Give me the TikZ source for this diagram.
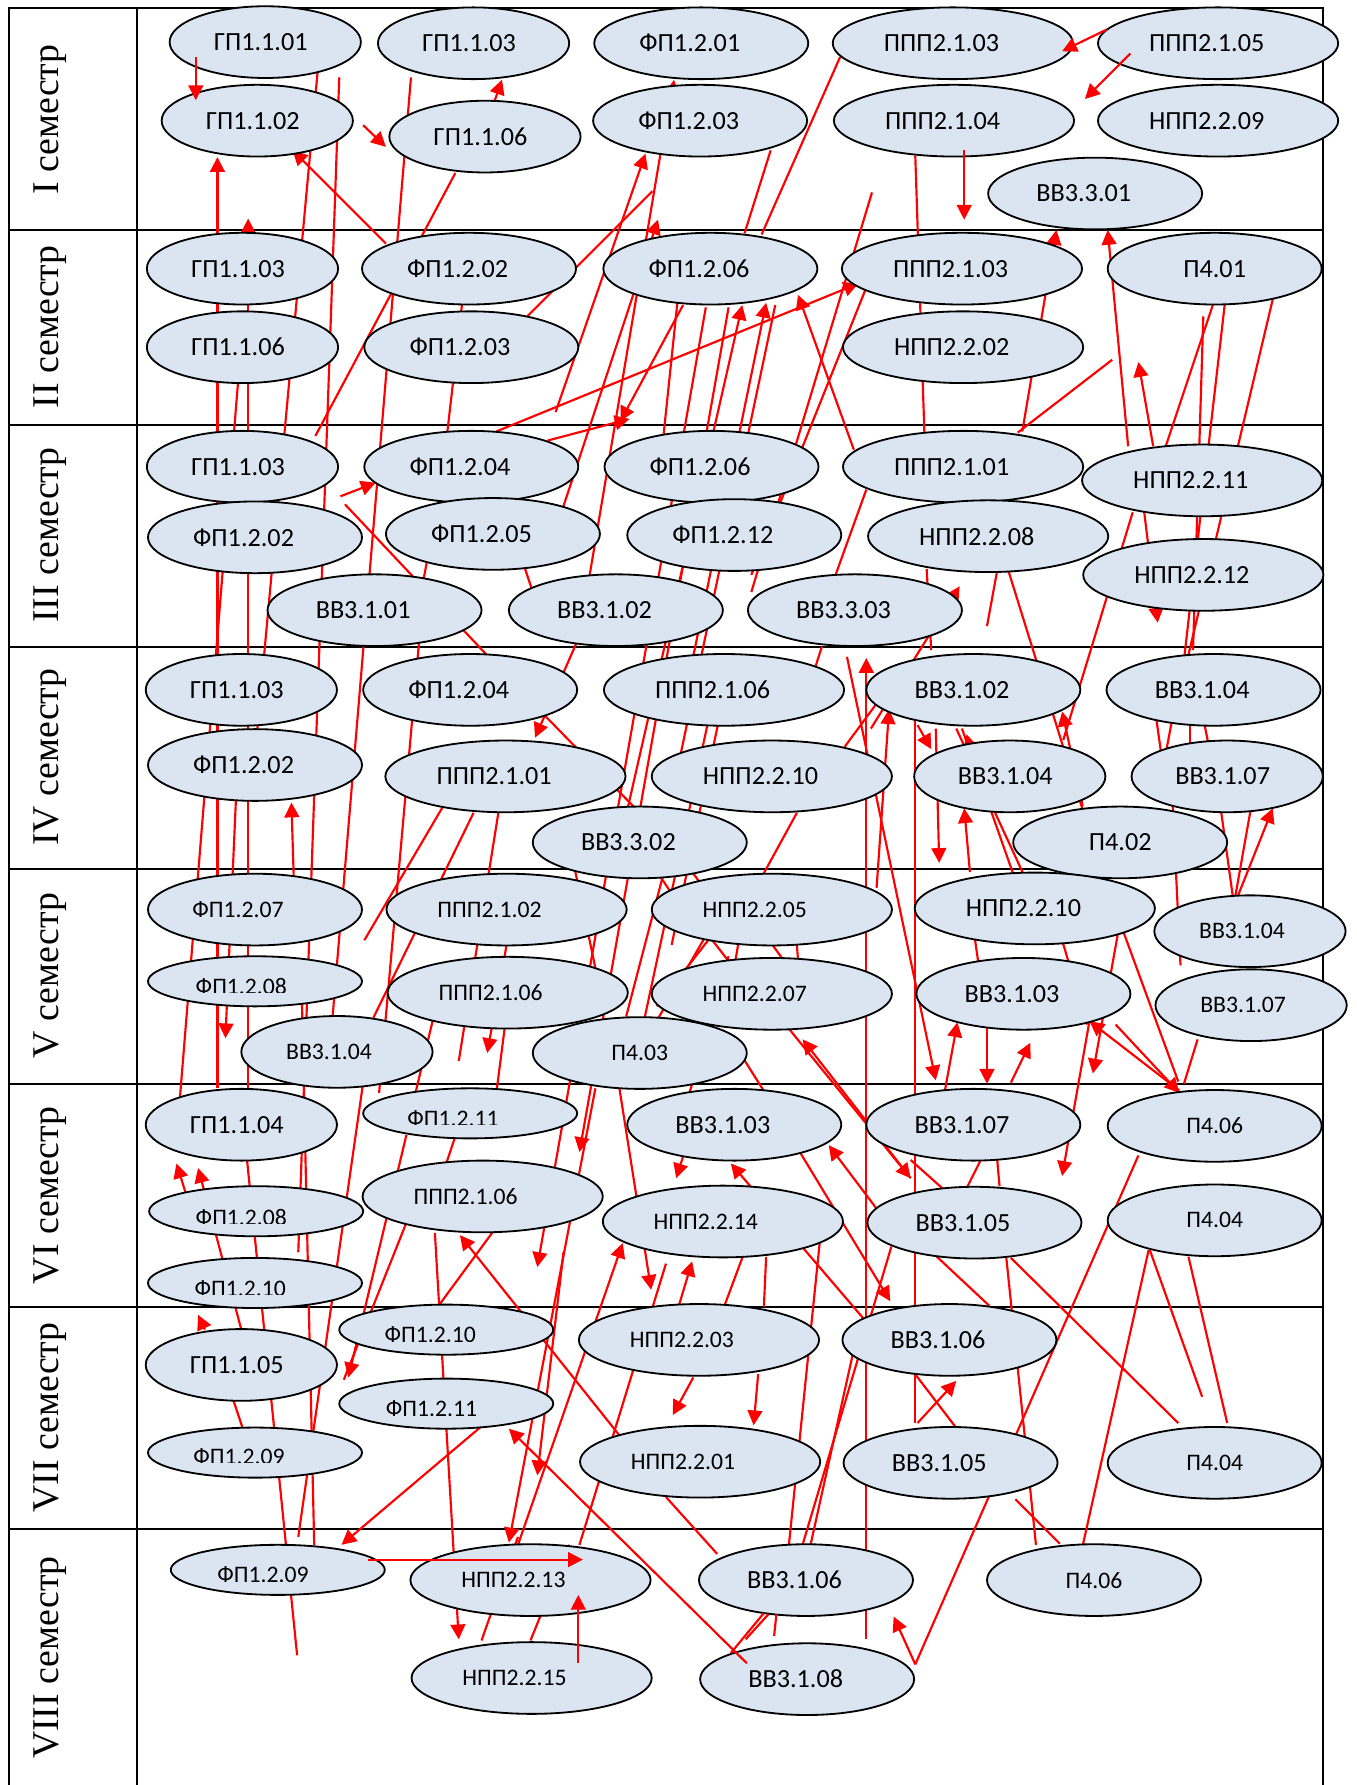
\documentclass[tikz,border=0pt]{standalone}
\usepackage{fontspec}
\usepackage{xcolor}
\usetikzlibrary{shapes.geometric,arrows.meta}
\newfontfamily\kursfont{Carlito}
\newfontfamily\semfont{Liberation Serif}
\definecolor{kursfill}{HTML}{DBE5F1}
\definecolor{svyaz}{HTML}{FF0000}

\tikzset{
  kurs/.style={ellipse, draw=black, line width=0.8pt, fill=kursfill,
    inner sep=0pt, minimum height=31.5pt,
    font=\kursfont\fontsize{11.5}{13}\selectfont},
  melk/.style={font=\kursfont\fontsize{10.4}{12}\selectfont},
  ploskiy/.style={minimum height=22pt},
  wA/.style={minimum width=84pt},
  wB/.style={minimum width=94pt},
  wC/.style={minimum width=105.5pt},
  sdv/.style={execute at end node={\kern10pt}},
  sdvm/.style={execute at end node={\kern15pt}},
  sdvs/.style={execute at end node={\kern7pt}},
  sdvg/.style={execute at end node={\kern4pt}},
  srez/.style={inner sep=0pt, anchor=base, font=\kursfont\fontsize{10.4}{12}\selectfont},
  semestr/.style={rotate=90, inner sep=0pt, font=\semfont\fontsize{16.6}{20}\selectfont},
  setka/.style={draw=black, line width=0.9pt},
  linia/.style={draw=svyaz, line width=0.95pt},
  strelka/.style={linia, -{Triangle[length=6.5pt, width=6.5pt]}}
}
% label of a flat ellipse, cut at the bottom: name, x, cut line, text
\newcommand\srezlabel[4]{%
  \begin{scope}
    \clip (#2-70,#3-30) rectangle (#2+70,#3);
    \node[srez] (#1) at (#2,#3+1.5) {#4};
  \end{scope}}

\begin{document}
\begin{tikzpicture}[x=0.5pt, y=-0.5pt]
    \useasboundingbox (0,0) rectangle (1192,1568);

    % table
    \draw[setka] (8,1568) -- (8,7) -- (1162,7) -- (1162,1568);
    \draw[setka] (120,7) -- (120,1568);
    \draw[setka] (8,202) -- (1162,202) (8,373) -- (1162,373) (8,568) -- (1162,568)
                 (8,763) -- (1162,763) (8,952) -- (1162,952) (8,1148) -- (1162,1148)
                 (8,1343) -- (1162,1343);

    \node[semestr] (sem1) at (44,105) {I семестр};
    \node[semestr] (sem2) at (44,287) {II семестр};
    \node[semestr] (sem3) at (44,470) {III семестр};
    \node[semestr] (sem4) at (44,665) {IV семестр};
    \node[semestr] (sem5) at (44,857) {V семестр};
    \node[semestr] (sem6) at (44,1050) {VI семестр};
    \node[semestr] (sem7) at (44,1245) {VII семестр};
    \node[semestr] (sem8) at (44,1456) {VIII семестр};

    % links behind the courses
    \draw[linia] (279,63) -- (226,641);
    \draw[linia] (298,68) -- (262,1100);
    \draw[linia] (361,68) -- (287,955);
    \draw[linia] (400,152) -- (277,383);
    \draw[linia] (580,136) -- (518,505);
    \draw[linia] (573,168) -- (463,278);
    \draw[linia] (738,50) -- (669,206);
    \draw[linia] (677,132) -- (654,205);
    \draw[linia] (766,169) -- (660,520);
    \draw[linia] (804,137) -- (812,380);
    \draw[linia] (406,266) -- (393,379);
    \draw[linia] (595,266) -- (583,381);
    \draw[linia] (681,268) -- (590,700);
    \draw[linia] (760,255) -- (660,505);
    \draw[linia] (977,316) -- (894,380);
    \draw[linia] (1066,266) -- (1005,449);
    \draw[linia] (1076,266) -- (1040,580);
    \draw[linia] (1118,263) -- (1044,575);
    \draw[linia] (1057,278) -- (1048,571);
    \draw[linia] (303,443) -- (432,580);
    \draw[linia] (867,550) -- (878,490);
    \draw[linia] (886,502) -- (960,740);
    \draw[linia] (814,500) -- (818,571);
    \draw[linia] (761,430) -- (734,505);
    \draw[linia] (995,450) -- (934,650);
    \draw[linia] (212,300) -- (158,965);
    \draw[linia] (217,1019) -- (261,1454);
    \draw[linia] (265,870) -- (276,1357);
    \draw[linia] (322,930) -- (262,1350);
    \draw[linia] (320,826) -- (400,690);
    \draw[linia] (328,894) -- (416,714);
    \draw[linia] (440,700) -- (403,932);
    \draw[linia] (372,520) -- (333,960);
    \draw[linia] (742,656) -- (770,618);
    \draw[linia] (702,630) -- (722,568);
    \draw[linia] (700,714) -- (671,767);
    \draw[linia] (479,629) -- (560,712);
    \draw[linia] (625,620) -- (565,900);
    \draw[linia] (632,630) -- (590,830);
    \draw[linia] (1030,705) -- (1037,848);
    \draw[linia] (1072,708) -- (1083,788);
    \draw[linia] (1099,709) -- (1085,788);
    \draw[linia] (1015,626) -- (1020,662);
    \draw[linia] (1030,630) -- (1024,662);
    \draw[linia] (1045,636) -- (1045,656);
    \draw[linia] (1058,636) -- (1062,656);
    \draw[linia] (840,640) -- (900,770);
    \draw[linia] (845,640) -- (912,830);
    \draw[linia] (933,826) -- (955,900);
    \draw[linia] (987,819) -- (1035,950);
    \draw[linia] (1052,913) -- (1040,952);
    \draw[linia] (650,770) -- (575,900);
    \draw[linia] (590,780) -- (660,870);
    \draw[linia] (650,790) -- (700,860);
    \draw[linia] (655,790) -- (640,880);
    \draw[linia] (697,790) -- (703,870);
    \draw[linia] (560,740) -- (600,800);
    \draw[linia] (590,740) -- (625,790);
    \draw[linia] (500,740) -- (525,860);
    \draw[linia] (384,880) -- (365,960);
    \draw[linia] (445,890) -- (436,960);
    \draw[linia] (650,925) -- (672,960);
    \draw[linia] (577,884) -- (622,826);
    \draw[linia] (550,893) -- (590,740);
    \draw[linia] (458,490) -- (468,520);
    \draw[linia] (385,440) -- (370,520);
    \draw[linia] (855,815) -- (860,850);
    \draw[linia] (200,1215) -- (215,1260);
    \draw[linia] (357,1074) -- (302,1212);
    \draw[linia] (433,1082) -- (386,1146);
    \draw[linia] (400,998) -- (392,1022);
    \draw[linia] (652,1105) -- (636,1148);
    \draw[linia] (673,1104) -- (671,1148);
    \draw[linia] (800,1202) -- (839,1253);
    \draw[linia] (1000,1015) -- (804,1462);
    \draw[linia] (1009,1098) -- (951,1358);
    \draw[linia] (1010,1098) -- (1056,1227);
    \draw[linia] (1044,1104) -- (1078,1250);
    \draw[linia] (888,1105) -- (1035,1250);
    \draw[linia] (822,1103) -- (869,1147);
    \draw[linia] (884,1105) -- (910,1357);
    \draw[linia] (892,1317) -- (931,1356);
    \draw[linia] (804,631) -- (804,1250);
    \draw[linia] (720,1092) -- (693,1357);
    \draw[linia] (751,1181) -- (712,1357);
    \draw[linia] (783,1095) -- (705,1357);
    \draw[linia] (585,1315) -- (630,1365);
    \draw[linia] (509,1357) -- (585,1110);
    \draw[linia] (423,1441) -- (455,1350);
    \draw[linia] (466,1441) -- (500,1357);
    \draw[linia] (861,1020) -- (849,1044);
    \draw[linia] (876,1019) -- (878,1042);
    \draw[linia] (800,1019) -- (828,1044);
    \draw[linia] (600,980) -- (640,840);

    \draw[strelka] (191,956) -- (191,138);
    \draw[strelka] (218,956) -- (218,192);
    \draw[strelka] (339,214) -- (257,132);
    \draw[strelka] (319,110) -- (339,129);
    \draw[strelka] (434,90) -- (441,70);
    \draw[strelka] (590,88) -- (592,70);
    \draw[strelka] (488,362) -- (567,135);
    \draw[strelka] (480,490) -- (578,193);
    \draw[strelka] (898,379) -- (928,202);
    \draw[strelka] (991,392) -- (973,202);
    \draw[strelka] (436,379) -- (754,249);
    \draw[strelka] (750,395) -- (701,259);
    \draw[strelka] (540,760) -- (652,268);
    \draw[strelka] (600,620) -- (673,266);
    \draw[strelka] (600,268) -- (545,370);
    \draw[strelka] (481,387) -- (553,368);
    \draw[strelka] (640,270) -- (509,1012);
    \draw[strelka] (620,270) -- (472,1113);
    \draw[strelka] (1013,392) -- (1000,318);
    \draw[strelka] (299,436) -- (330,424);
    \draw[strelka] (1005,449) -- (1017,547);
    \draw[strelka] (765,640) -- (843,515);
    \draw[strelka] (515,545) -- (470,648);
    \draw[strelka] (258,770) -- (256,705);
    \draw[strelka] (761,1440) -- (761,578);
    \draw[strelka] (770,780) -- (781,623);
    \draw[strelka] (806,637) -- (818,658);
    \draw[strelka] (862,690) -- (849,645);
    \draw[strelka] (822,640) -- (825,758);
    \draw[strelka] (852,766) -- (847,710);
    \draw[strelka] (1087,788) -- (1118,710);
    \draw[strelka] (951,708) -- (933,625);
    \draw[strelka] (744,577) -- (822,949);
    \draw[strelka] (210,640) -- (198,912);
    \draw[strelka] (445,830) -- (428,925);
    \draw[strelka] (830,958) -- (841,898);
    \draw[strelka] (867,893) -- (867,952);
    \draw[strelka] (888,951) -- (905,916);
    \draw[strelka] (1036,958) -- (957,897);
    \draw[strelka] (980,900) -- (1036,960);
    \draw[strelka] (982,820) -- (960,943);
    \draw[strelka] (170,1070) -- (155,1022);
    \draw[strelka] (212,1168) -- (174,1026);
    \draw[strelka] (180,1168) -- (174,1155);
    \draw[strelka] (455,1357) -- (547,1092);
    \draw[strelka] (600,1016) -- (594,1035);
    \draw[strelka] (540,930) -- (572,1133);
    \draw[strelka] (596,1148) -- (608,1108);
    \draw[strelka] (760,1160) -- (642,1022);
    \draw[strelka] (777,1071) -- (728,1006);
    \draw[strelka] (960,880) -- (933,1033);
    \draw[strelka] (702,1011) -- (782,1143);
    \draw[strelka] (545,1262) -- (404,1085);
    \draw[strelka] (382,1083) -- (403,1440);
    \draw[strelka] (357,997) -- (306,1210);
    \draw[strelka] (424,1252) -- (300,1357);
    \draw[strelka] (495,1100) -- (472,1296);
    \draw[strelka] (523,956) -- (447,1355);
    \draw[strelka] (609,1210) -- (591,1243);
    \draw[strelka] (666,1207) -- (662,1252);
    \draw[strelka] (806,1250) -- (840,1213);
    \draw[strelka] (804,1462) -- (785,1420);
    \draw[strelka] (800,1035) -- (705,913);
    \draw[strelka] (690,900) -- (800,1035);

    % I semester
    \node[kurs,wA,sdvg] (s1gp101) at (233,37) {ГП1.1.01};
    \node[kurs,wA,sdvg] (s1gp103) at (416,38) {ГП1.1.03};
    \node[kurs,wB,sdv] (s1fp201) at (616,38) {ФП1.2.01};
    \node[kurs,wC,sdv] (s1ppp203) at (837,38) {ППП2.1.03};
    \node[kurs,wC,sdv] (s1ppp205) at (1070,38) {ППП2.1.05};
    \node[kurs,wA,sdvg] (s1gp102) at (226,106) {ГП1.1.02};
    \node[kurs,wA,sdvg] (s1gp106) at (426,120) {ГП1.1.06};
    \node[kurs,wB,sdv] (s1fp203) at (615,106) {ФП1.2.03};
    \node[kurs,wC,sdv] (s1ppp204) at (838,106) {ППП2.1.04};
    \node[kurs,wC,sdv] (s1npp209) at (1070,106) {НПП2.2.09};
    \node[kurs,wB,sdv] (s1vv301) at (962,170) {ВВ3.3.01};

    % II semester
    \node[kurs,wA,sdvg] (s2gp103) at (213,236) {ГП1.1.03};
    \node[kurs,wB,sdv] (s2fp202) at (412,236) {ФП1.2.02};
    \node[kurs,wB,sdv] (s2fp206) at (624,236) {ФП1.2.06};
    \node[kurs,wC,sdv] (s2ppp203) at (845,236) {ППП2.1.03};
    \node[kurs,wB] (s2p401) at (1067,236) {П4.01};
    \node[kurs,wA,sdvg] (s2gp106) at (213,305) {ГП1.1.06};
    \node[kurs,wB,sdv] (s2fp203) at (414,305) {ФП1.2.03};
    \node[kurs,wC,sdv] (s2npp202) at (846,305) {НПП2.2.02};

    % III semester
    \node[kurs,wA,sdvg] (s3gp103) at (213,410) {ГП1.1.03};
    \node[kurs,wB,sdv] (s3fp204) at (414,410) {ФП1.2.04};
    \node[kurs,wB,sdv] (s3fp206) at (625,410) {ФП1.2.06};
    \node[kurs,wC,sdv] (s3ppp201) at (846,410) {ППП2.1.01};
    \node[kurs,wC,sdv] (s3npp211) at (1056,422) {НПП2.2.11};
    \node[kurs,wB,sdv] (s3fp202) at (224,472) {ФП1.2.02};
    \node[kurs,wB,sdv] (s3fp205) at (433,469) {ФП1.2.05};
    \node[kurs,wB,sdv] (s3fp212) at (645,470) {ФП1.2.12};
    \node[kurs,wC,sdv] (s3npp208) at (868,471) {НПП2.2.08};
    \node[kurs,wC,sdv] (s3npp212) at (1057,505) {НПП2.2.12};
    \node[kurs,wB,sdv] (s3vv101) at (329,536) {ВВ3.1.01};
    \node[kurs,wB,sdv] (s3vv102) at (541,536) {ВВ3.1.02};
    \node[kurs,wB,sdv] (s3vv303) at (751,536) {ВВ3.3.03};

    % IV semester
    \node[kurs,wA,sdvg] (s4gp103) at (212,606) {ГП1.1.03};
    \node[kurs,wB,sdv] (s4fp204) at (413,606) {ФП1.2.04};
    \node[kurs,wC,sdv] (s4ppp206) at (636,606) {ППП2.1.06};
    \node[kurs,wB,sdv] (s4vv102) at (855,606) {ВВ3.1.02};
    \node[kurs,wB,sdv] (s4vv104) at (1066,606) {ВВ3.1.04};
    \node[kurs,wB,sdv] (s4fp202) at (224,672) {ФП1.2.02};
    \node[kurs,wC,sdv] (s4ppp201) at (444,682) {ППП2.1.01};
    \node[kurs,wC,sdv] (s4npp210) at (678,682) {НПП2.2.10};
    \node[kurs,wA,sdvg] (s4vv104b) at (887,682) {ВВ3.1.04};
    \node[kurs,wA,sdvg] (s4vv107) at (1078,682) {ВВ3.1.07};
    \node[kurs,wB,sdv] (s4vv302) at (562,740) {ВВ3.3.02};
    \node[kurs,wB] (s4p402) at (984,740) {П4.02};

    % V semester
    \node[kurs,wB,melk,sdvm] (s5fp207) at (224,799) {ФП1.2.07};
    \node[kurs,wC,melk,sdvm] (s5ppp202) at (445,799) {ППП2.1.02};
    \node[kurs,wC,melk,sdvm] (s5npp205) at (678,799) {НПП2.2.05};
    \node[kurs,wC,sdv] (s5npp210) at (909,798) {НПП2.2.10};
    \node[kurs,wA,melk,sdvs] (s5vv104) at (1098,818) {ВВ3.1.04};
    \node[kurs,wB,ploskiy] (s5fp208) at (224,862) {};
    \node[kurs,wC,melk,sdvm] (s5ppp206) at (446,872) {ППП2.1.06};
    \node[kurs,wC,melk,sdvm] (s5npp207) at (678,873) {НПП2.2.07};
    \node[kurs,wB,sdv] (s5vv103) at (899,873) {ВВ3.1.03};
    \node[kurs,wA,melk,sdvs] (s5vv107) at (1099,883) {ВВ3.1.07};
    \node[kurs,wA,melk,sdvs] (s5vv104b) at (296,924) {ВВ3.1.04};
    \node[kurs,wB,melk] (s5p403) at (562,925) {П4.03};

    % VI semester
    \node[kurs,wA,sdvg] (s6gp104) at (212,988) {ГП1.1.04};
    \node[kurs,wB,ploskiy] (s6fp211) at (413,978) {};
    \node[kurs,wB,sdv] (s6vv103) at (645,988) {ВВ3.1.03};
    \node[kurs,wB,sdv] (s6vv107) at (855,988) {ВВ3.1.07};
    \node[kurs,wB,melk] (s6p406) at (1067,989) {П4.06};
    \node[kurs,wB,ploskiy] (s6fp208) at (225,1064) {};
    \node[kurs,wC,melk,sdvm] (s6ppp206) at (424,1051) {ППП2.1.06};
    \node[kurs,wC,melk,sdvm] (s6npp214) at (635,1073) {НПП2.2.14};
    \node[kurs,wB,sdv] (s6vv105) at (856,1074) {ВВ3.1.05};
    \node[kurs,wB,melk] (s6p404) at (1067,1072) {П4.04};
    \node[kurs,wB,ploskiy] (s6fp210) at (224,1127) {};

    % VII semester
    \node[kurs,wB,ploskiy] (s7fp210) at (392,1168) {};
    \node[kurs,wA,sdvg] (s7gp105) at (212,1199) {ГП1.1.05};
    \node[kurs,wB,ploskiy] (s7fp211) at (392,1233) {};
    \node[kurs,wB,ploskiy] (s7fp209) at (224,1276) {};
    \node[kurs,wC,melk,sdvm] (s7npp203) at (614,1177) {НПП2.2.03};
    \node[kurs,wB,sdv] (s7vv106) at (834,1177) {ВВ3.1.06};
    \node[kurs,wC,melk,sdvm] (s7npp201) at (615,1284) {НПП2.2.01};
    \node[kurs,wB,sdv] (s7vv105) at (835,1285) {ВВ3.1.05};
    \node[kurs,wB,melk] (s7p404) at (1067,1285) {П4.04};

    % VIII semester
    \node[kurs,wB,ploskiy] (s8fp209) at (244,1379) {};
    \node[kurs,wC,melk,sdvm] (s8npp213) at (466,1388) {НПП2.2.13};
    \node[kurs,wC,melk,sdvm] (s8npp215) at (467,1474) {НПП2.2.15};
    \node[kurs,wB,sdv] (s8vv106) at (708,1388) {ВВ3.1.06};
    \node[kurs,wB,sdv] (s8vv108) at (709,1475) {ВВ3.1.08};
    \node[kurs,wB,melk] (s8p406) at (961,1388) {П4.06};

    % cut labels of the flat ellipses
    \srezlabel{s5fp208t}{212}{872}{ФП1.2.08}
    \srezlabel{s6fp211t}{398}{988}{ФП1.2.11}
    \srezlabel{s6fp208t}{212}{1075}{ФП1.2.08}
    \srezlabel{s6fp210t}{211}{1137}{ФП1.2.10}
    \srezlabel{s7fp210t}{378}{1178}{ФП1.2.10}
    \srezlabel{s7fp211t}{379}{1243}{ФП1.2.11}
    \srezlabel{s7fp209t}{210}{1285}{ФП1.2.09}
    \srezlabel{s8fp209t}{231}{1389}{ФП1.2.09}

    % links drawn over the courses
    \draw[strelka] (172,50) -- (172,88);
    \draw[strelka] (972,26) -- (933,45);
    \draw[strelka] (993,47) -- (953,87);
    \draw[strelka] (847,132) -- (847,193);
    \draw[strelka] (323,1370) -- (512,1370);
    \draw[strelka] (508,1461) -- (508,1401);
    \draw[strelka] (656,1461) -- (447,1255);
    \draw[linia] (671,1417) -- (642,1452);
    \draw[linia] (675,1418) -- (655,1440);
    \draw[linia] (682,1418) -- (680,1437);
\end{tikzpicture}
\end{document}
